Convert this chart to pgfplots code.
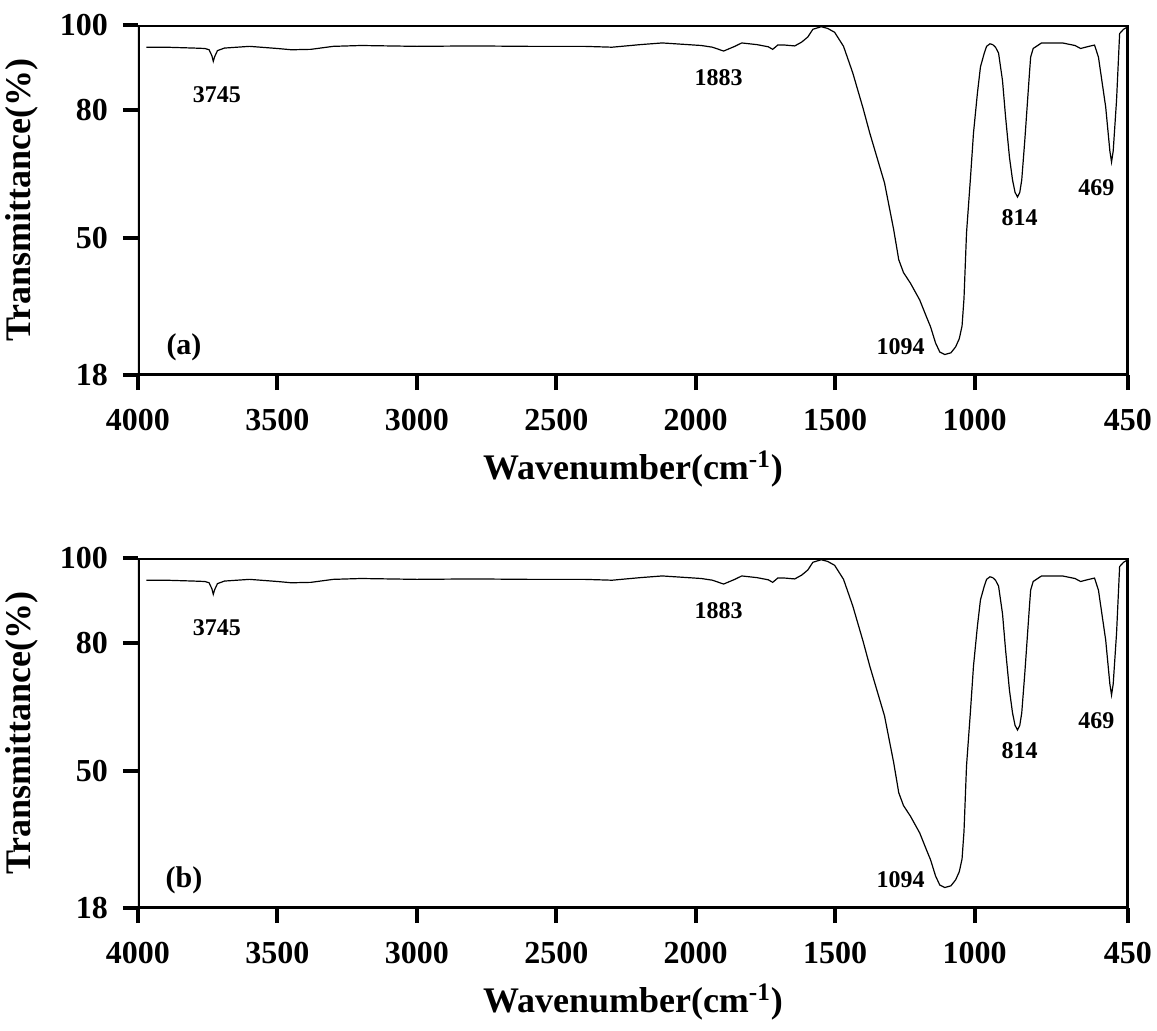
\documentclass[border=0pt]{standalone}
\usepackage{fontspec}
\setmainfont{Liberation Serif}
\usepackage{pgfplots}
\pgfplotsset{compat=1.18}

% one FTIR spectrum
\pgfplotstableread{
wn T
3970 94.8
3900 94.8
3800 94.6
3760 94.5
3745 94.2
3735 92.8
3730 91.5
3725 92.6
3715 94.0
3690 94.6
3600 95.0
3500 94.5
3450 94.2
3380 94.3
3300 95.0
3200 95.2
3000 95.0
2800 95.1
2600 95.0
2400 95.0
2300 94.8
2200 95.4
2120 95.8
2050 95.5
1980 95.2
1940 94.8
1900 93.9
1860 95.0
1835 95.8
1780 95.4
1740 94.9
1724 94.3
1706 95.3
1680 95.3
1645 95.1
1620 96.0
1598 97.2
1580 99.0
1550 99.6
1527 99.2
1502 98.3
1470 95.0
1437 88.8
1400 80.5
1376 74.7
1323 63.0
1290 52.0
1272 45.0
1255 42.0
1230 39.5
1197 35.6
1175 32.0
1158 29.3
1140 25.5
1125 23.4
1107 22.8
1085 23.2
1068 24.6
1055 26.5
1045 29.5
1038 36.0
1029 51.3
1015 64.0
1004 74.7
990 84.0
979 90.2
965 93.5
957 95.0
945 95.6
935 95.4
925 94.8
914 93.4
900 87.0
889 78.5
875 69.0
864 63.7
855 60.8
846 59.7
838 60.8
831 63.7
820 73.0
810 82.4
803 89.0
799 92.5
790 94.5
760 95.8
685 95.8
640 95.2
620 94.5
590 95.0
570 95.3
556 92.5
530 80.8
515 70.5
509 67.9
503 70.5
491 82.4
480 98.0
466 99.0
450 99.6
}\spectrum

\pgfplotsset{
  ftir/.style={
    width=495pt, height=175pt, scale only axis,
    xmin=450, xmax=4000, x dir=reverse,
    ymin=18, ymax=100,
    xtick={4000,3500,3000,2500,2000,1500,1000,450},
    ytick={18,50,80,100},
    /pgf/number format/set thousands separator={},
    /pgf/number format/assume math mode=true,
    tick align=outside, tick pos=left,
    major tick length=7.5pt,
    tick style={black, line width=2pt},
    ticklabel style={font=\fontsize{16}{16}\selectfont\bfseries},
    xticklabel shift=6pt, yticklabel shift=4pt,
    label style={font=\fontsize{18}{18}\selectfont\bfseries},
    xlabel={Wavenumber(cm\textsuperscript{-1})},
    ylabel={Transmittance(\%)},
    xlabel shift=3pt, ylabel shift=4pt,
  },
}
\tikzset{
  peak/.style={font=\fontsize{12}{12}\selectfont\bfseries},
  panel/.style={font=\fontsize{15}{15}\selectfont\bfseries},
  frame/.style={line width=2pt},
}

\begin{document}
\begin{tikzpicture}
\path[use as bounding box] (-69pt,187.5pt) rectangle (509.5pt,-327.5pt);
\begin{axis}[ftir, at={(0,0)}]
\addplot[black, line width=0.6pt] table[x=wn, y=T] {\spectrum};
\draw[frame] (rel axis cs:0,0) rectangle (rel axis cs:1,1);
\node[peak] at (axis cs:3717,83.6) {3745};
\node[peak] at (axis cs:1918,87.6) {1883};
\node[peak] at (axis cs:1265,24.6) {1094};
\node[peak] at (axis cs:839,54.8) {814};
\node[peak] at (axis cs:563,62) {469};
\node[panel] at (axis cs:3835,24.6) {(a)};
\end{axis}
\begin{axis}[ftir, at={(0,-266.5pt)}]
\addplot[black, line width=0.6pt] table[x=wn, y=T] {\spectrum};
\draw[frame] (rel axis cs:0,0) rectangle (rel axis cs:1,1);
\node[peak] at (axis cs:3717,83.6) {3745};
\node[peak] at (axis cs:1918,87.6) {1883};
\node[peak] at (axis cs:1265,24.6) {1094};
\node[peak] at (axis cs:839,54.8) {814};
\node[peak] at (axis cs:563,62) {469};
\node[panel] at (axis cs:3835,24.6) {(b)};
\end{axis}
\end{tikzpicture}
\end{document}
